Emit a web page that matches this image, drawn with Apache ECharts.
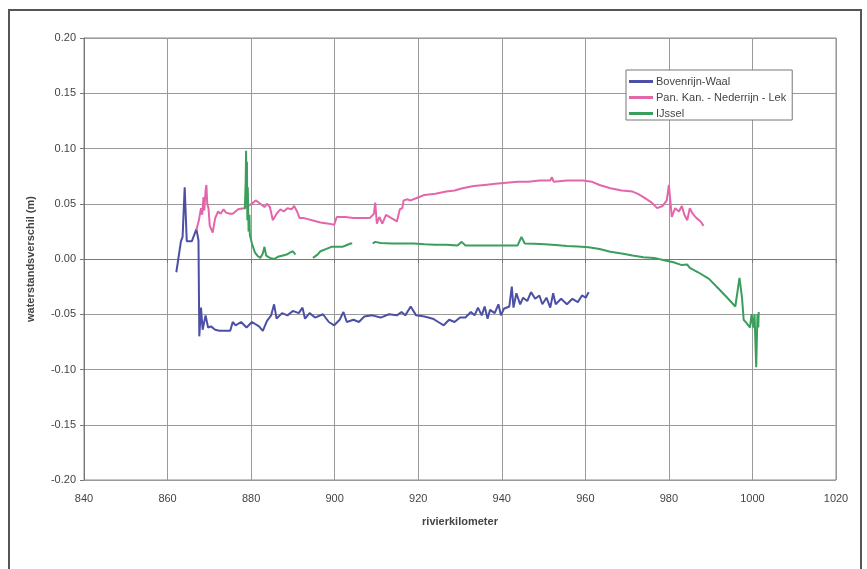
<!DOCTYPE html>
<html>
<head>
<meta charset="utf-8">
<script src="https://cdn.jsdelivr.net/npm/echarts@6/dist/echarts.min.js"></script>
<style>
  html, body { margin: 0; padding: 0; background: #ffffff; }
  #chart { width: 867px; height: 569px; }
</style>
</head>
<body>
<div id="chart"></div>
<script>
// Water level difference along the rivers (river kilometre vs. metres)
const seriesNames = ['Bovenrijn-Waal', 'Pan. Kan. - Nederrijn - Lek', 'IJssel'];
const xTicks = { min: 840, max: 1020, step: 20 };
const yTicks = { min: -0.2, max: 0.2, step: 0.05 };

const waalKm = [862.1, 863.2, 863.6, 864.1, 864.6, 865.8, 866.9, 867.4, 867.6, 867.8, 868.0, 868.4, 869.1, 869.7, 870.4, 871.4, 872.4, 873.7, 875.0, 875.6, 876.3, 877.6, 878.9, 880.2, 881.9, 882.8, 883.8, 884.8, 885.5, 886.1, 887.4, 888.7, 890.0, 891.4, 892.3, 892.9, 894.0, 895.3, 897.2, 898.6, 899.9, 901.2, 902.1, 902.9, 904.5, 905.8, 907.1, 909.0, 911.0, 913.0, 914.9, 916.0, 916.9, 918.2, 919.5, 921.5, 923.5, 924.8, 926.1, 927.4, 928.7, 930.0, 931.3, 932.6, 933.5, 934.3, 935.2, 935.9, 936.6, 937.2, 938.3, 939.2, 939.8, 940.5, 941.8, 942.4, 942.8, 943.5, 944.4, 945.1, 946.1, 947.0, 948.0, 949.0, 949.7, 950.7, 951.6, 952.3, 952.9, 954.2, 955.6, 956.9, 958.2, 959.2, 960.1, 960.8];
const waalVal = [-0.012, 0.016, 0.020, 0.065, 0.016, 0.016, 0.027, 0.017, -0.070, -0.057, -0.044, -0.064, -0.051, -0.062, -0.061, -0.064, -0.065, -0.065, -0.065, -0.057, -0.060, -0.057, -0.062, -0.057, -0.061, -0.065, -0.056, -0.051, -0.041, -0.054, -0.049, -0.051, -0.047, -0.049, -0.044, -0.054, -0.049, -0.053, -0.050, -0.057, -0.060, -0.055, -0.048, -0.057, -0.055, -0.057, -0.052, -0.051, -0.053, -0.050, -0.051, -0.048, -0.051, -0.043, -0.051, -0.052, -0.054, -0.057, -0.060, -0.055, -0.057, -0.053, -0.053, -0.048, -0.051, -0.044, -0.051, -0.043, -0.054, -0.046, -0.049, -0.041, -0.051, -0.045, -0.043, -0.025, -0.044, -0.031, -0.041, -0.035, -0.038, -0.030, -0.036, -0.033, -0.041, -0.035, -0.044, -0.031, -0.041, -0.036, -0.041, -0.036, -0.039, -0.033, -0.035, -0.030];

const lekKm = [866.9, 867.5, 868.0, 868.3, 868.6, 868.8, 869.1, 869.3, 869.5, 869.8, 870.1, 870.8, 871.4, 872.1, 872.7, 873.4, 874.0, 874.9, 875.6, 876.9, 878.3, 879.2, 880.2, 881.1, 882.2, 883.2, 883.8, 884.5, 885.2, 886.1, 887.0, 887.8, 888.7, 889.7, 890.3, 891.0, 891.6, 892.7, 894.6, 896.6, 898.6, 899.9, 900.5, 902.5, 904.5, 906.4, 908.4, 909.4, 909.7, 910.1, 910.7, 911.4, 912.3, 913.6, 914.9, 915.6, 916.2, 916.5, 917.3, 918.2, 919.5, 921.5, 924.1, 926.7, 928.7, 930.6, 933.3, 935.9, 938.5, 941.1, 943.8, 946.4, 949.0, 951.6, 952.0, 952.4, 955.6, 959.5, 961.5, 963.4, 966.0, 968.7, 971.3, 972.6, 973.9, 975.9, 977.2, 978.5, 979.5, 980.0, 980.7, 981.5, 982.4, 983.1, 983.7, 984.4, 985.0, 985.7, 986.6, 987.6, 988.3];
const lekVal = [0.026, 0.035, 0.046, 0.040, 0.056, 0.044, 0.062, 0.067, 0.050, 0.046, 0.030, 0.024, 0.037, 0.043, 0.041, 0.045, 0.042, 0.041, 0.041, 0.045, 0.046, 0.048, 0.050, 0.053, 0.050, 0.047, 0.050, 0.047, 0.035, 0.041, 0.045, 0.043, 0.046, 0.045, 0.048, 0.043, 0.037, 0.037, 0.035, 0.033, 0.032, 0.031, 0.038, 0.038, 0.037, 0.037, 0.037, 0.041, 0.051, 0.032, 0.038, 0.032, 0.040, 0.037, 0.034, 0.045, 0.046, 0.053, 0.054, 0.053, 0.055, 0.058, 0.059, 0.061, 0.062, 0.064, 0.066, 0.067, 0.068, 0.069, 0.070, 0.070, 0.071, 0.071, 0.074, 0.070, 0.071, 0.071, 0.070, 0.067, 0.064, 0.062, 0.061, 0.059, 0.056, 0.051, 0.046, 0.048, 0.053, 0.067, 0.038, 0.046, 0.043, 0.048, 0.040, 0.035, 0.046, 0.041, 0.037, 0.034, 0.030];

// null values mark the two stretches without data
const ijsselKm = [878.5, 878.7, 878.8, 878.9, 879.0, 879.1, 879.2, 879.4, 879.6, 879.7, 880.2, 880.9, 881.5, 882.2, 882.8, 883.2, 883.6, 884.5, 885.5, 886.4, 887.4, 888.5, 889.4, 890.0, 890.6, 892.5, 894.8, 895.9, 896.6, 897.9, 899.2, 900.5, 901.8, 902.5, 903.8, 904.2, 906.5, 909.1, 909.7, 911.0, 913.6, 916.2, 918.9, 921.5, 924.1, 926.7, 929.4, 930.4, 931.3, 934.6, 937.2, 939.8, 943.8, 944.7, 945.5, 947.7, 950.3, 952.9, 955.6, 958.2, 960.8, 963.4, 966.0, 968.7, 971.3, 973.9, 976.5, 979.1, 981.1, 983.1, 984.4, 985.0, 987.0, 989.6, 992.2, 994.2, 995.9, 996.9, 997.5, 997.9, 998.6, 999.4, 999.8, 1000.2, 1000.5, 1000.9, 1001.2, 1001.4, 1001.5];
const ijsselVal = [0.045, 0.070, 0.098, 0.050, 0.088, 0.035, 0.065, 0.025, 0.040, 0.022, 0.014, 0.006, 0.003, 0.001, 0.005, 0.011, 0.003, 0.001, 0.000, 0.002, 0.003, 0.004, 0.006, 0.007, 0.004, null, 0.001, 0.004, 0.007, 0.009, 0.011, 0.011, 0.011, 0.012, 0.014, 0.014, null, 0.014, 0.0155, 0.0145, 0.014, 0.014, 0.014, 0.0133, 0.013, 0.013, 0.0123, 0.0155, 0.0123, 0.0123, 0.0123, 0.0123, 0.0123, 0.020, 0.014, 0.0139, 0.0133, 0.0126, 0.0117, 0.0113, 0.0107, 0.009, 0.0065, 0.005, 0.0032, 0.0016, 0.001, -0.0013, -0.003, -0.0055, -0.005, -0.008, -0.012, -0.018, -0.028, -0.036, -0.043, -0.017, -0.035, -0.055, -0.058, -0.062, -0.050, -0.062, -0.050, -0.098, -0.050, -0.062, -0.048];

const lineColors = ['#4b50a6', '#e466aa', '#3a9e5c'];

const pairs = (xs, ys) => xs.map((x, i) => [x, ys[i]]);
const font = '"Liberation Sans", Arial, sans-serif';

const chart = echarts.init(document.getElementById('chart'), null, { renderer: 'canvas' });

chart.setOption({
  animation: false,
  backgroundColor: '#ffffff',
  graphic: [{
    type: 'rect',
    z: -10,
    shape: { x: 9, y: 10, width: 852, height: 580 },
    style: { fill: 'none', stroke: '#555', lineWidth: 2 }
  }],
  grid: {
    left: 84, top: 38, width: 752, height: 442,
    show: true, backgroundColor: '#ffffff', borderColor: '#8a8a8a', borderWidth: 1
  },
  legend: {
    orient: 'vertical',
    left: 626, top: 70,
    padding: [6, 6, 1, 3],
    itemGap: 5,
    itemWidth: 24, itemHeight: 3,
    icon: 'rect',
    backgroundColor: '#ffffff',
    borderColor: '#777', borderWidth: 1,
    textStyle: { fontFamily: font, fontSize: 11, color: '#444', padding: [0, 0, 0, -2] },
    data: seriesNames
  },
  xAxis: {
    type: 'value',
    min: xTicks.min, max: xTicks.max, interval: xTicks.step,
    name: 'rivierkilometer',
    nameLocation: 'middle', nameGap: 36,
    nameTextStyle: { fontFamily: font, fontSize: 11, fontWeight: 'bold', color: '#444' },
    axisLine: { show: true, lineStyle: { color: '#777', width: 1 } },
    axisTick: { show: true, length: 4, lineStyle: { color: '#777' } },
    axisLabel: { fontFamily: font, fontSize: 11, color: '#444', margin: 13, formatter: v => String(v) },
    splitLine: { show: true, lineStyle: { color: '#9a9a9a', width: 1 } }
  },
  yAxis: {
    type: 'value',
    min: yTicks.min, max: yTicks.max, interval: yTicks.step,
    name: 'waterstandsverschil (m)',
    nameLocation: 'middle', nameGap: 48, nameRotate: 90,
    nameTextStyle: { fontFamily: font, fontSize: 11, fontWeight: 'bold', color: '#444' },
    axisLine: { show: true, lineStyle: { color: '#777', width: 1 } },
    axisTick: { show: true, length: 4, lineStyle: { color: '#777' } },
    axisLabel: {
      fontFamily: font, fontSize: 11, color: '#444', margin: 8,
      formatter: v => (Math.abs(v) < 1e-9 ? 0 : v).toFixed(2)
    },
    splitLine: { show: true, lineStyle: { color: '#9a9a9a', width: 1 } }
  },
  series: [
    { name: seriesNames[0], data: pairs(waalKm, waalVal) },
    { name: seriesNames[1], data: pairs(lekKm, lekVal) },
    { name: seriesNames[2], data: pairs(ijsselKm, ijsselVal) }
  ].map((s, i) => Object.assign(s, {
    type: 'line',
    showSymbol: false,
    symbol: 'none',
    connectNulls: false,
    color: lineColors[i],
    lineStyle: { color: lineColors[i], width: 2 }
  }))
});
</script>
</body>
</html>
